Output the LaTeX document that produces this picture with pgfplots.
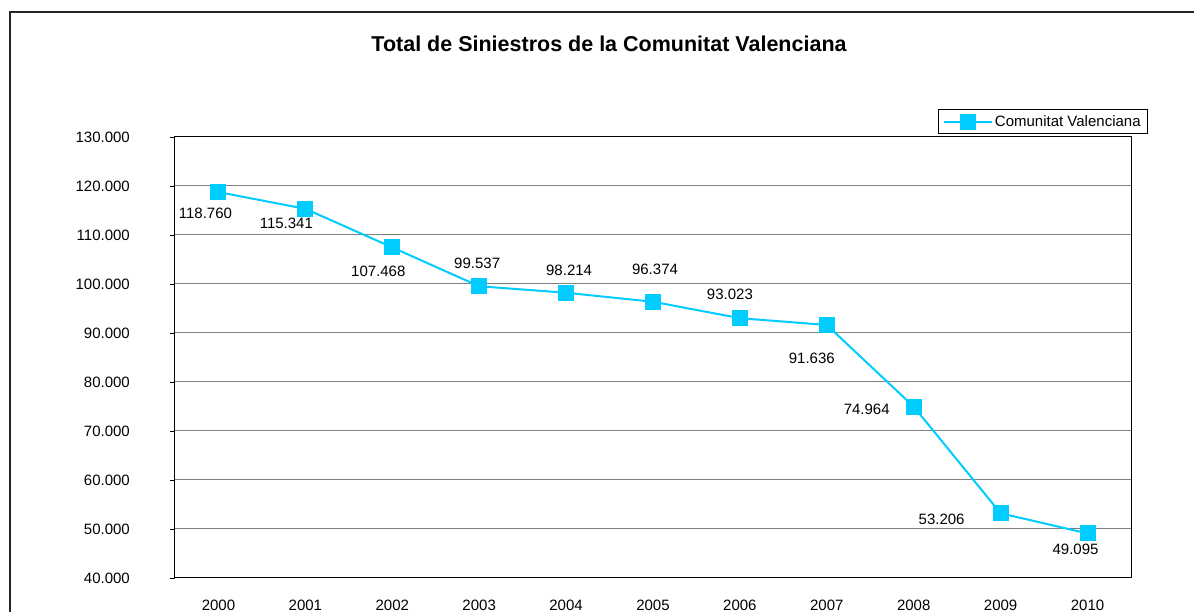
\documentclass[border=0pt]{standalone}
\usepackage{fontspec}
\setmainfont{Liberation Sans}
\usepackage{pgfplots}
\usepackage{pgfplotstable}
\pgfplotsset{compat=1.18}

\definecolor{serie}{RGB}{0,204,255}

% year, total, label shift (pt)
\pgfplotstableread{
year  total   dx   dy
2000  118760  -13  -21
2001  115341  -19  -15
2002  107468  -14  -24
2003  99537   -2    23
2004  98214    3    22
2005  96374    2    32
2006  93023  -10    24
2007  91636  -15   -33
2008  74964  -47    -3
2009  53206  -59    -6
2010  49095  -12   -16
}\siniestros

\begin{document}
\begin{tikzpicture}
\useasboundingbox (-175pt,-34pt) rectangle (1019pt,578pt);
\begin{axis}[
    scale only axis,
    width=956pt, height=441pt,
    xmin=1999.5, xmax=2010.5,
    ymin=40000, ymax=130000,
    xtick=data,
    ytick={40000,50000,...,130000},
    scaled y ticks=false,
    ytick pos=left,
    x tick style={draw=none},
    y tick style={black, line width=0.8pt},
    tick align=outside,
    major tick length=5pt,
    ymajorgrids,
    grid style={gray, line width=1pt},
    axis line style={black, line width=1pt},
    tick label style={font=\fontsize{15}{17}\selectfont},
    xticklabel style={/pgf/number format/1000 sep={}, anchor=center, yshift=-22pt},
    yticklabel style={/pgf/number format/.cd, fixed, 1000 sep={.}, /tikz/.cd, anchor=east, inner sep=0pt, xshift=-40pt},
    /pgf/number format/assume math mode=true,
    title={Total de Siniestros de la Comunitat Valenciana},
    title style={font=\bfseries\fontsize{21.5}{24}\selectfont, at={(0.454,1.197)}, anchor=center},
    legend style={at={(1.0178,1.0635)}, anchor=north east, draw=black, line width=0.8pt,
        font=\fontsize{15}{17}\selectfont, inner xsep=5pt, inner ysep=4pt, row sep=0pt},
    legend image code/.code={\draw[mark repeat=2,mark phase=2,#1] plot coordinates {(0pt,0pt) (24pt,0pt) (48pt,0pt)};},
    nodes near coords={\pgfmathprintnumber[fixed,precision=0,1000 sep={.},assume math mode=true]{\pgfplotspointmeta}},
    visualization depends on={\thisrow{dx}\as\dx},
    visualization depends on={\thisrow{dy}\as\dy},
    nodes near coords style={anchor=center, inner sep=0pt, font=\fontsize{15}{17}\selectfont, black,
        xshift=\dx pt, yshift=\dy pt},
]
\addplot[color=serie, line width=2pt, mark=square*, mark size=7.5pt,
    mark options={fill=serie, draw=serie, line width=0pt}]
    table[x=year, y=total] {\siniestros};
\legend{Comunitat Valenciana}
\end{axis}
\draw[line width=2pt, black!85] (-165pt,-40pt) -- (-165pt,566pt) -- (1030pt,566pt);
\end{tikzpicture}
\end{document}
